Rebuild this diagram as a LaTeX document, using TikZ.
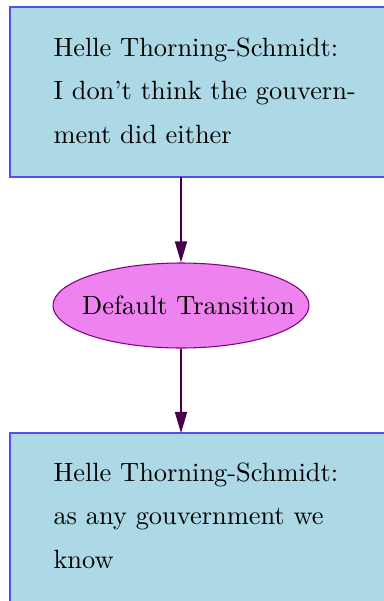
\documentclass[tikz,border=0pt]{standalone}
\usepackage{tikz}
\usetikzlibrary{shapes.geometric,arrows.meta}
\definecolor{boxfill}{RGB}{173,216,230}
\definecolor{boxline}{RGB}{80,80,235}
\definecolor{ovalfill}{RGB}{238,130,238}
\definecolor{ovalline}{RGB}{128,0,128}
\definecolor{edgecol}{RGB}{72,0,72}
\newdimen\pxu
\pxu=0.3788pt
\tikzset{
  speech/.style={draw=boxline, fill=boxfill, line width=0.5pt},
  speechtext/.style={anchor=base west, inner sep=0pt, align=left, font=\fontsize{10}{16.3}\selectfont},
  transition/.style={ellipse, draw=ovalline, fill=ovalfill, line width=0.4pt,
    minimum width=256\pxu, minimum height=85\pxu, inner sep=0pt, font=\fontsize{10}{12}\selectfont},
  flow/.style={draw=edgecol, line width=0.5pt, -{Triangle[length=8pt,width=4.6pt]}}
}
\begin{document}
\begin{tikzpicture}[x=0.3788pt,y=-0.3788pt]
  \useasboundingbox (0,0) rectangle (383,601);
  % upper statement box (the base anchor sits on the last line)
  \path[speech] (10,7) rectangle (400,177);
  \coordinate (topbottom) at (181,177);
  \node[speechtext] (top) at (53,143) {Helle Thorning-Schmidt:\\I don’t think the gouvern-\\ment did either};
  % transition oval, fixed size regardless of its label
  \node[transition] (trans) at (181,305.5) {\makebox[0pt]{\hspace*{5.7pt}Default Transition}};
  % lower statement box
  \path[speech] (10,433) rectangle (400,620);
  \coordinate (bottomtop) at (181,433);
  \node[speechtext] (bottom) at (53,568) {Helle Thorning-Schmidt:\\as any gouvernment we\\know};
  % connectors
  \draw[flow] (topbottom) -- (trans.north);
  \draw[flow] (trans.south) -- (bottomtop);
\end{tikzpicture}
\end{document}
